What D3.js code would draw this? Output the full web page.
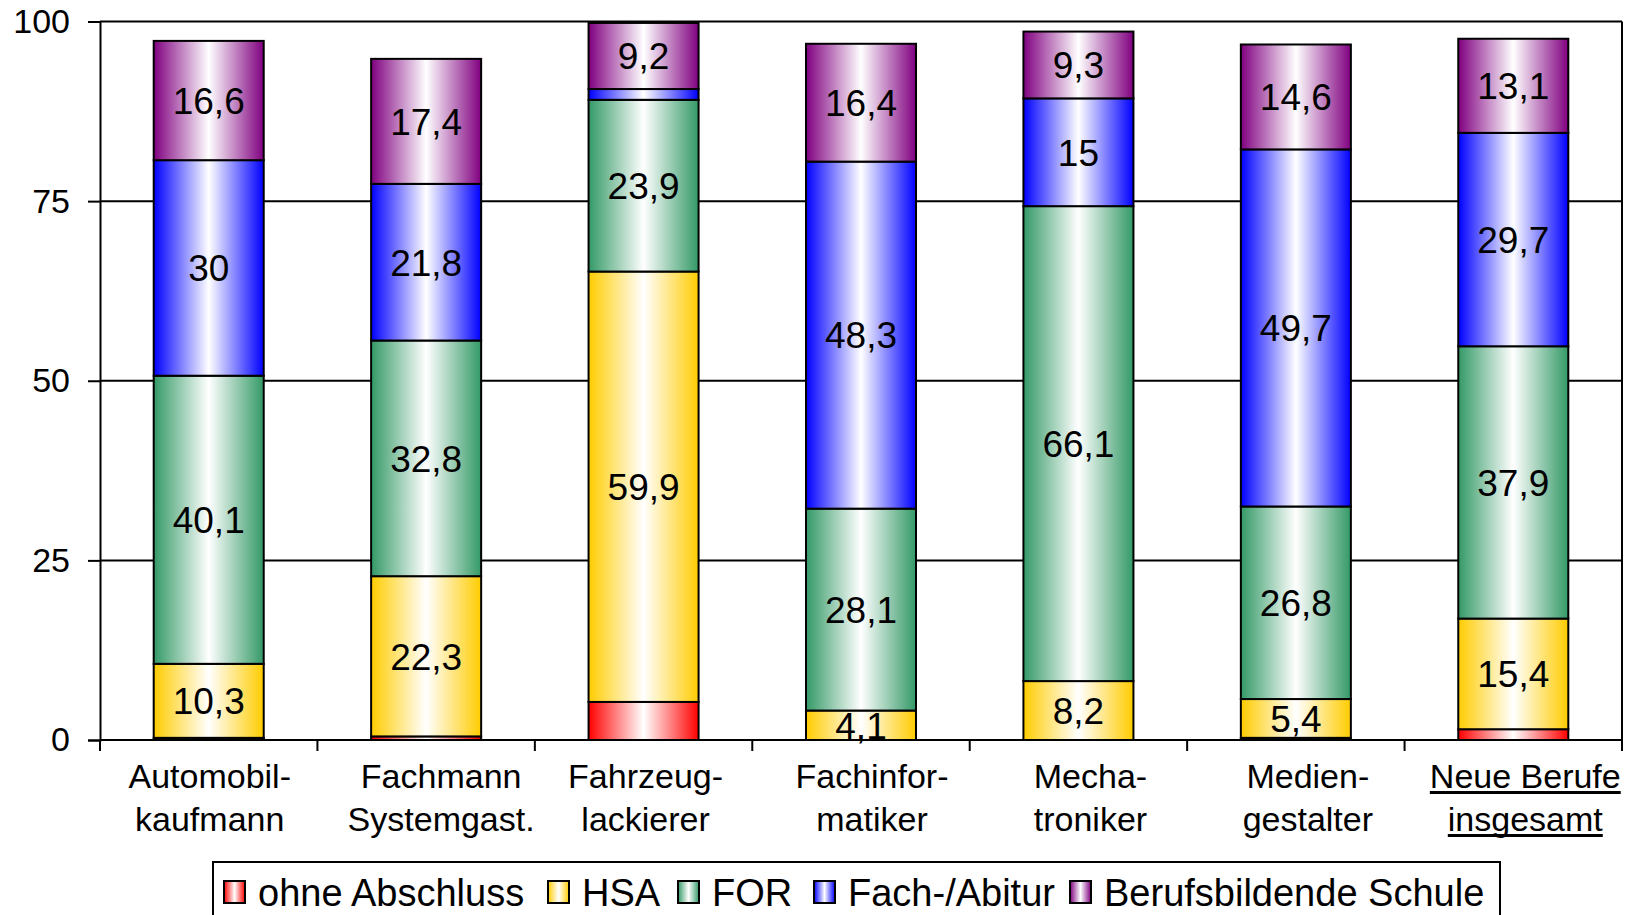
<!DOCTYPE html>
<html>
<head>
<meta charset="utf-8">
<script src="https://cdn.jsdelivr.net/npm/d3@7"></script>
<style>
  html, body { margin: 0; padding: 0; background: #fff; }
  svg { display: block; }
  text { font-family: "Liberation Sans", Arial, sans-serif; fill: #000; }
</style>
</head>
<body>
<svg id="chart" width="1630" height="915"></svg>
<script>
// Berufe (two-line axis labels)
const categories = [
  ["Automobil-", "kaufmann"],
  ["Fachmann", "Systemgast."],
  ["Fahrzeug-", "lackierer"],
  ["Fachinfor-", "matiker"],
  ["Mecha-", "troniker"],
  ["Medien-", "gestalter"],
  ["Neue Berufe", "insgesamt"]
];

// Schulabschlüsse (stack order, bottom to top)
const seriesNames = ["ohne Abschluss", "HSA", "FOR", "Fach-/Abitur", "Berufsbildende Schule"];
const seriesColors = ["#FF0000", "#FFCC00", "#339966", "#0000FF", "#800080"];

// Anteile in Prozent
const ohneAbschluss = [0.3, 0.5, 5.3, 0, 0, 0.3, 1.5];
const hsa           = [10.3, 22.3, 59.9, 4.1, 8.2, 5.4, 15.4];
const forValues     = [40.1, 32.8, 23.9, 28.1, 66.1, 26.8, 37.9];
const fachAbitur    = [30, 21.8, 1.5, 48.3, 15, 49.7, 29.7];
const berufsschule  = [16.6, 17.4, 9.2, 16.4, 9.3, 14.6, 13.1];

const yTicks = [0, 25, 50, 75, 100];

const seriesValues = [ohneAbschluss, hsa, forValues, fachAbitur, berufsschule];
const catKeys = categories.map(c => c.join(" "));

const rows = catKeys.map((k, i) => {
  const r = { key: k };
  seriesNames.forEach((s, j) => { r[s] = seriesValues[j][i]; });
  return r;
});

const svg = d3.select("#chart");
const plotLeft = 100, plotRight = 1622, plotTop = 21.5, plotBottom = 740;

const x = d3.scaleBand().domain(catKeys).range([plotLeft, plotRight])
  .paddingInner(0.494).paddingOuter(0.247);
const y = d3.scaleLinear().domain([0, 100]).range([plotBottom, plotTop]);

// gradients: colour at the edges, white in the middle
const defs = svg.append("defs");
seriesColors.forEach((c, i) => {
  const g = defs.append("linearGradient").attr("id", "grad" + i)
    .attr("x1", "0%").attr("x2", "100%").attr("y1", "0%").attr("y2", "0%");
  g.append("stop").attr("offset", "0%").attr("stop-color", c);
  g.append("stop").attr("offset", "50%").attr("stop-color", "#ffffff");
  g.append("stop").attr("offset", "100%").attr("stop-color", c);
});

// gridlines
svg.append("g").selectAll("line").data(yTicks.filter(t => t > 0)).join("line")
  .attr("x1", plotLeft).attr("x2", plotRight)
  .attr("y1", d => y(d)).attr("y2", d => y(d))
  .attr("stroke", "#000").attr("stroke-width", 2);

// right plot border
svg.append("line").attr("x1", plotRight).attr("x2", plotRight)
  .attr("y1", plotTop).attr("y2", plotBottom).attr("stroke", "#000").attr("stroke-width", 2);

// stacked bars
const stack = d3.stack().keys(seriesNames);
const layers = stack(rows);

const layerG = svg.append("g").selectAll("g").data(layers).join("g")
  .attr("fill", (d, i) => `url(#grad${i})`);

layerG.selectAll("rect").data(d => d.filter(s => s[1] - s[0] > 0)).join("rect")
  .attr("x", d => x(d.data.key))
  .attr("width", x.bandwidth())
  .attr("y", d => y(d[1]))
  .attr("height", d => y(d[0]) - y(d[1]))
  .attr("stroke", "#000").attr("stroke-width", 2);

// value labels (the "ohne Abschluss" series carries none)
const fmt = v => String(v).replace(".", ",");
layers.forEach((layer, li) => {
  if (li === 0) return;
  svg.append("g").selectAll("text").data(layer.filter(s => s[1] - s[0] >= 2)).join("text")
    .attr("x", d => x(d.data.key) + x.bandwidth() / 2)
    .attr("y", d => y((d[0] + d[1]) / 2))
    .attr("dy", "0.36em")
    .attr("text-anchor", "middle")
    .attr("font-size", 37)
    .text(d => fmt(+(d[1] - d[0]).toFixed(1)));
});

// y axis
const yAxis = d3.axisLeft(y).tickValues(yTicks).tickSize(12).tickPadding(18);
const gy = svg.append("g").attr("transform", `translate(${plotLeft},0)`).call(yAxis);
gy.select(".domain").attr("stroke", "#000").attr("stroke-width", 2);
gy.selectAll(".tick line").attr("stroke", "#000").attr("stroke-width", 2);
gy.selectAll(".tick text").attr("font-size", 34).attr("font-family", "Liberation Sans, Arial, sans-serif").attr("fill", "#000");

// x axis line and boundary ticks
svg.append("line").attr("x1", plotLeft).attr("x2", plotRight).attr("y1", plotBottom).attr("y2", plotBottom)
  .attr("stroke", "#000").attr("stroke-width", 2);
const bounds = catKeys.map(k => x(k) - x.step() * x.paddingInner() / 2).concat([plotRight]);
svg.append("g").selectAll("line").data(bounds).join("line")
  .attr("x1", d => d).attr("x2", d => d).attr("y1", plotBottom).attr("y2", plotBottom + 11)
  .attr("stroke", "#000").attr("stroke-width", 2);

// category labels; small horizontal nudges per slot, last label underlined
const labelNudge = [1, 15, 2, 11, 12, 12, 12];
const catG = svg.append("g").selectAll("g").data(categories).join("g");
catG.each(function (lines, i) {
  const cx = x(catKeys[i]) + x.bandwidth() / 2 + labelNudge[i];
  const last = i === categories.length - 1;
  lines.forEach((ln, j) => {
    const baseY = 788 + j * 43;
    const t = d3.select(this).append("text")
      .attr("x", cx)
      .attr("y", baseY)
      .attr("text-anchor", "middle")
      .attr("font-size", 34)
      .text(ln);
    if (last) {
      const w = t.node().getComputedTextLength();
      d3.select(this).append("line")
        .attr("x1", cx - w / 2).attr("x2", cx + w / 2)
        .attr("y1", baseY + 4.5).attr("y2", baseY + 4.5)
        .attr("stroke", "#000").attr("stroke-width", 3);
    }
  });
});

// legend
const legend = svg.append("g");
legend.append("rect").attr("x", 213).attr("y", 862).attr("width", 1287).attr("height", 80)
  .attr("fill", "#fff").attr("stroke", "#000").attr("stroke-width", 2);
const legendX = [224, 548, 678, 814, 1070];
seriesNames.forEach((s, i) => {
  legend.append("rect").attr("x", legendX[i]).attr("y", 881).attr("width", 21).attr("height", 22)
    .attr("fill", `url(#grad${i})`).attr("stroke", "#000").attr("stroke-width", 2);
  legend.append("text").attr("x", legendX[i] + 34).attr("y", 892).attr("dy", "0.36em")
    .attr("font-size", 38).text(s);
});
</script>
</body>
</html>
